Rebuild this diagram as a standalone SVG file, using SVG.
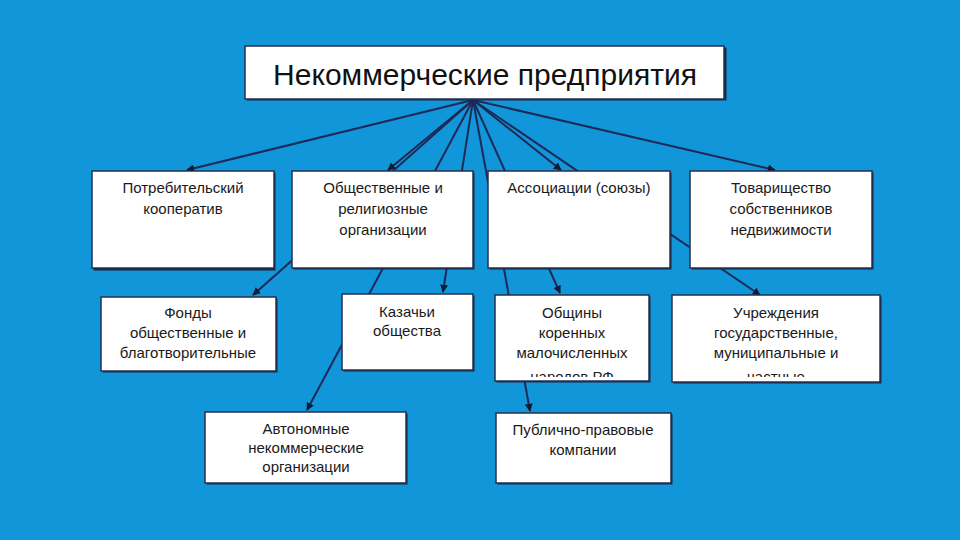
<svg xmlns="http://www.w3.org/2000/svg" width="960" height="540" viewBox="0 0 960 540">
<defs>
<style>
.bg{fill:#1296da}
.shadow{fill:#1b2746}
.box{fill:#ffffff;stroke:#24314f;stroke-width:1.5}
.t{font-family:"Liberation Sans",Arial,sans-serif;font-size:15px;fill:#1a1a1a;text-anchor:middle}
.title{font-family:"Liberation Sans",Arial,sans-serif;font-size:30px;fill:#111111;text-anchor:middle}
.c{stroke:#1c2a55;stroke-width:2;fill:none;marker-end:url(#arr)}
.cn{stroke:#1c2a55;stroke-width:2;fill:none}
</style>
<marker id="arr" viewBox="0 0 10 10" refX="9" refY="5" markerWidth="4" markerHeight="4" orient="auto" markerUnits="strokeWidth">
<path d="M0,0 L10,5 L0,10 z" fill="#111a33"/>
</marker>
<clipPath id="clipObsh"><rect x="496" y="296" width="152" height="81"/></clipPath>
<clipPath id="clipUch"><rect x="673" y="296" width="206" height="81"/></clipPath>
</defs>
<rect class="bg" x="0" y="0" width="960" height="540"/>

<g id="connectors">
<line class="c" x1="473" y1="100" x2="187" y2="170"/>
<line class="c" x1="473" y1="100" x2="388" y2="170"/>
<line class="c" x1="473" y1="100" x2="253" y2="295"/>
<line class="c" x1="473" y1="100" x2="307" y2="410"/>
<line class="c" x1="473" y1="100" x2="443" y2="292"/>
<line class="c" x1="473" y1="100" x2="530" y2="411"/>
<line class="c" x1="473" y1="100" x2="560" y2="293"/>
<line class="c" x1="473" y1="100" x2="561" y2="170"/>
<line class="c" x1="473" y1="100" x2="760" y2="295"/>
<line class="c" x1="473" y1="100" x2="775" y2="170"/>
</g>

<g id="node-title">
<rect class="shadow" x="246.5" y="47.5" width="480" height="53"/>
<rect class="box" x="245" y="46" width="479" height="53"/>
<text class="title" x="485" y="85">Некоммерческие предприятия</text>
</g>

<g id="node-potreb">
<rect class="shadow" x="93.5" y="172.5" width="182" height="98"/>
<rect class="box" x="92" y="171" width="182" height="97"/>
<text class="t" x="183" y="193">Потребительский</text>
<text class="t" x="183" y="214">кооператив</text>
</g>

<g id="node-obshch">
<rect class="shadow" x="293.5" y="172.5" width="181" height="97"/>
<rect class="box" x="292" y="171" width="181" height="97"/>
<text class="t" x="383" y="193">Общественные и</text>
<text class="t" x="383" y="214">религиозные</text>
<text class="t" x="383" y="235">организации</text>
</g>

<g id="node-assoc">
<rect class="shadow" x="489.5" y="172.5" width="182" height="97"/>
<rect class="box" x="488" y="171" width="182" height="97"/>
<text class="t" x="579" y="193">Ассоциации (союзы)</text>
</g>

<g id="node-tovar">
<rect class="shadow" x="691.5" y="172.5" width="182" height="97"/>
<rect class="box" x="690" y="171" width="182" height="97"/>
<text class="t" x="781" y="193">Товарищество</text>
<text class="t" x="781" y="214">собственников</text>
<text class="t" x="781" y="235">недвижимости</text>
</g>

<g id="node-fondy">
<rect class="shadow" x="102.5" y="298.5" width="175" height="74"/>
<rect class="box" x="101" y="297" width="175" height="74"/>
<text class="t" x="188" y="318">Фонды</text>
<text class="t" x="188" y="338">общественные и</text>
<text class="t" x="188" y="358">благотворительные</text>
</g>

<g id="node-kazachi">
<rect class="shadow" x="343.5" y="295.5" width="131" height="76"/>
<rect class="box" x="342" y="294" width="131" height="76"/>
<text class="t" x="407" y="317">Казачьи</text>
<text class="t" x="407" y="336">общества</text>
</g>

<g id="node-obshchiny">
<rect class="shadow" x="496.5" y="296.5" width="154" height="86"/>
<rect class="box" x="495" y="295" width="154" height="86"/>
<g clip-path="url(#clipObsh)">
<text class="t" x="572" y="318">Общины</text>
<text class="t" x="572" y="338">коренных</text>
<text class="t" x="572" y="358">малочисленных</text>
<text class="t" x="572" y="382">народов РФ</text>
</g>
</g>

<g id="node-uchrezh">
<rect class="shadow" x="673.5" y="296.5" width="208" height="87"/>
<rect class="box" x="672" y="295" width="208" height="87"/>
<g clip-path="url(#clipUch)">
<text class="t" x="776" y="318">Учреждения</text>
<text class="t" x="776" y="338">государственные,</text>
<text class="t" x="776" y="358">муниципальные и</text>
<text class="t" x="776" y="382">частные</text>
</g>
</g>

<g id="node-avtonom">
<rect class="shadow" x="206.5" y="413.5" width="201" height="71"/>
<rect class="box" x="205" y="412" width="201" height="71"/>
<text class="t" x="306" y="434">Автономные</text>
<text class="t" x="306" y="453">некоммерческие</text>
<text class="t" x="306" y="472">организации</text>
</g>

<g id="node-publich">
<rect class="shadow" x="497.5" y="414.5" width="175" height="70"/>
<rect class="box" x="496" y="413" width="175" height="70"/>
<text class="t" x="583" y="435">Публично-правовые</text>
<text class="t" x="583" y="455">компании</text>
</g>
</svg>
